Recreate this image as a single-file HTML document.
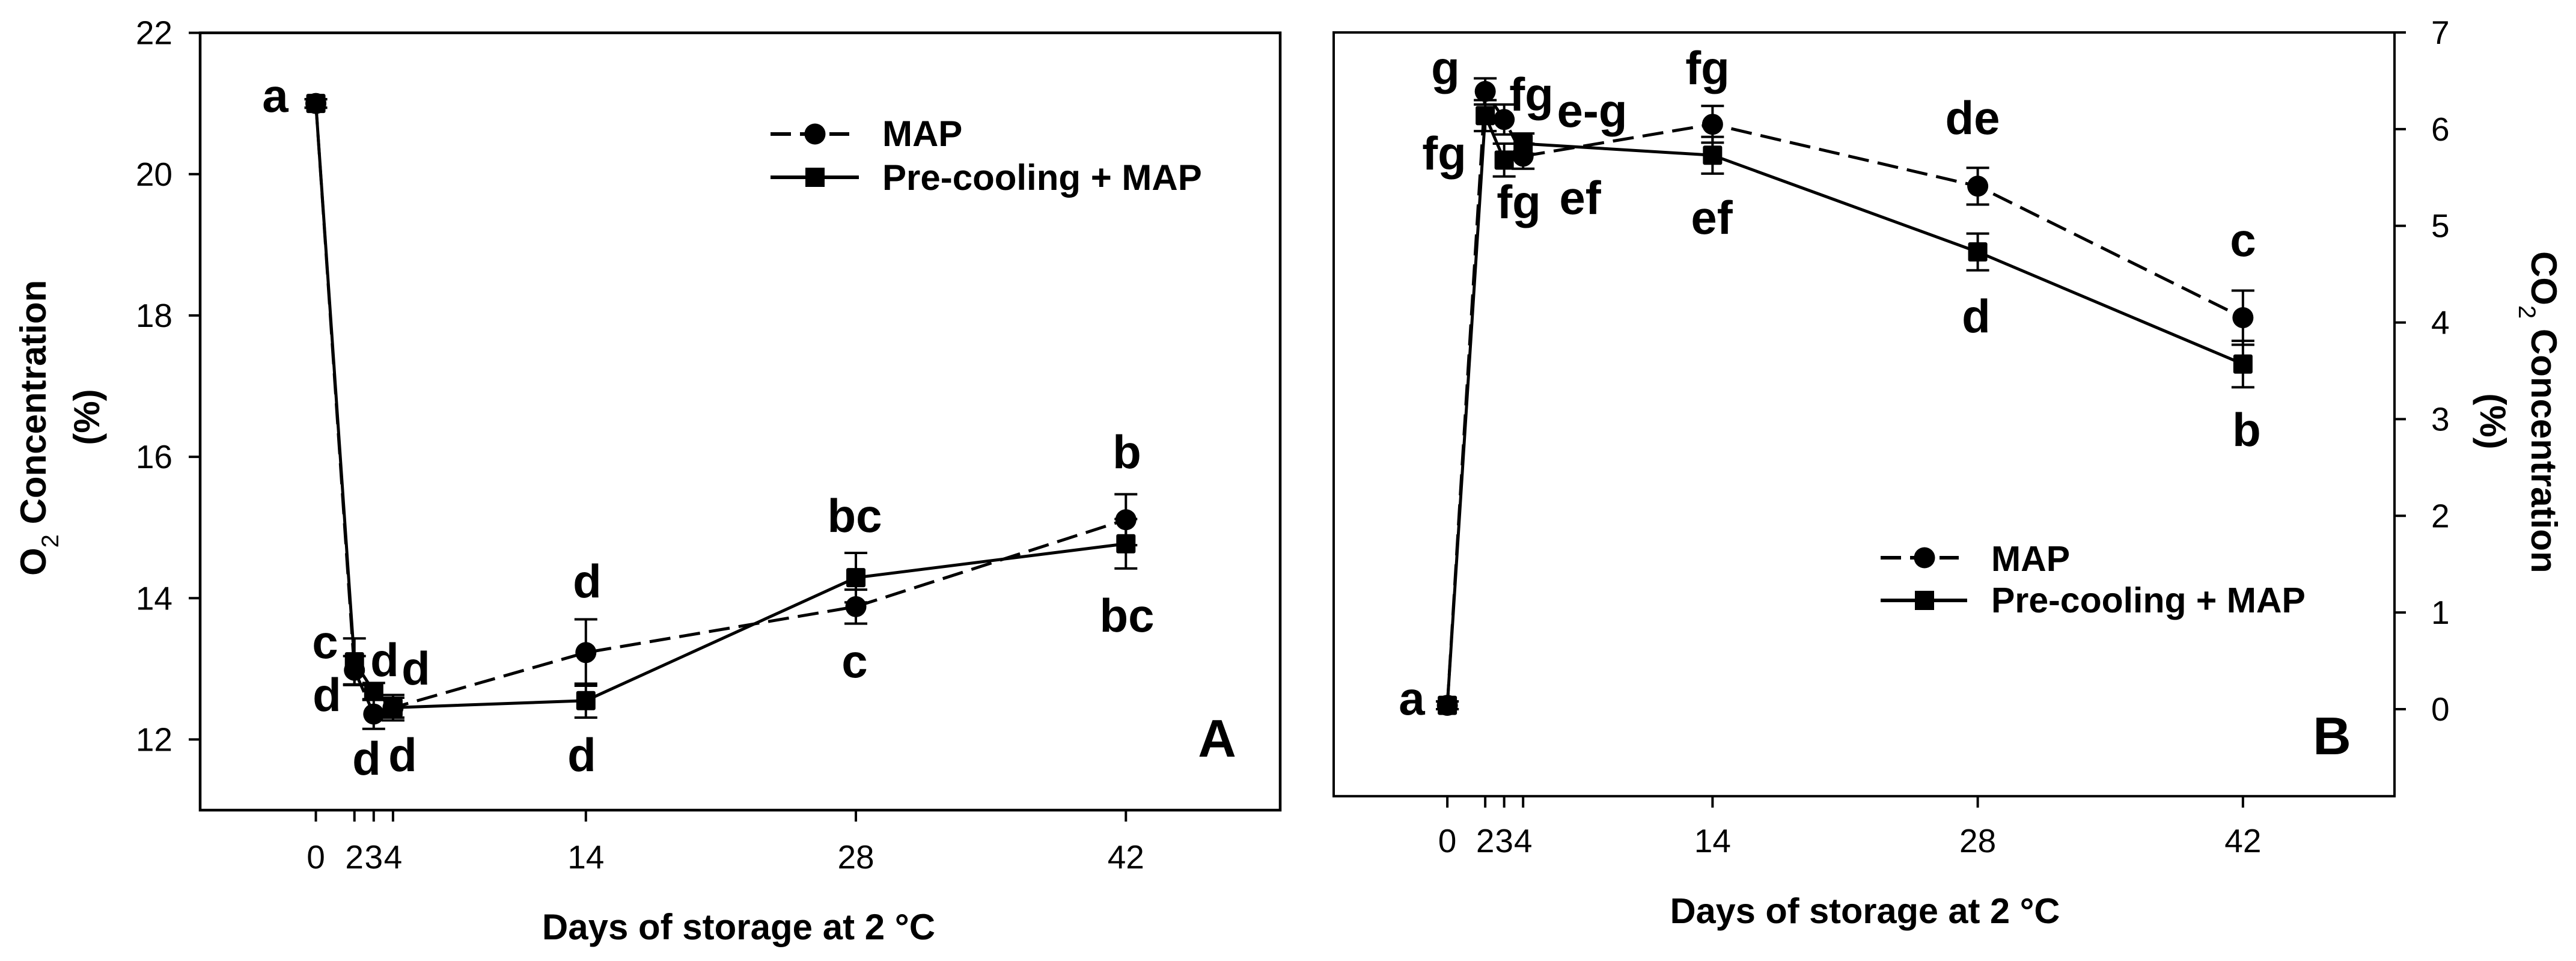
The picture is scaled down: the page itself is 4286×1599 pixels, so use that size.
<!DOCTYPE html>
<html lang="en">
<head>
<meta charset="utf-8">
<title>O2 and CO2 concentration during storage</title>
<style>
html,body{margin:0;padding:0;background:#fff;}
svg{display:block;}
text{font-family:"Liberation Sans",Arial,sans-serif;fill:#000;}
.lt{font-weight:bold;font-size:78px;text-anchor:middle;}
.tl{font-size:55px;}
.ti{font-weight:bold;font-size:60px;}
.sub{font-weight:normal;font-size:40px;}
.lg{font-weight:bold;}
</style>
</head>
<body>
<svg id="chart" xmlns="http://www.w3.org/2000/svg" width="4286" height="1599" viewBox="0 0 4286 1599">
<rect x="0" y="0" width="4286" height="1599" fill="#fff"/>
<g id="panelA"></g>
<g id="panelB"></g>

<text class="ti" transform="translate(76,958) rotate(-90)">O<tspan class="sub" dy="21">2</tspan><tspan dy="-21"> Concentration</tspan></text>
<text class="ti" transform="translate(165,694) rotate(-90)" text-anchor="middle">(%)</text>
<text class="ti" x="1229" y="1563" text-anchor="middle">Days of storage at 2 °C</text>
<text class="ti" x="3103" y="1536" text-anchor="middle" style="font-size:59.5px">Days of storage at 2 °C</text>
<text class="ti" transform="translate(4212,418) rotate(90)">CO<tspan class="sub" dy="21">2</tspan><tspan dy="-21"> Concentration</tspan></text>
<text class="ti" transform="translate(4127,701) rotate(90)" text-anchor="middle">(%)</text>

<g>
<text class="lt" x="458" y="186">a</text>
<text class="lt" x="541" y="1095">c</text>
<text class="lt" x="544" y="1183">d</text>
<text class="lt" x="640" y="1125">d</text>
<text class="lt" x="692" y="1139">d</text>
<text class="lt" x="610" y="1289">d</text>
<text class="lt" x="670" y="1283">d</text>
<text class="lt" x="977" y="994">d</text>
<text class="lt" x="968" y="1283">d</text>
<text class="lt" x="1422" y="885">bc</text>
<text class="lt" x="1422" y="1127">c</text>
<text class="lt" x="1875" y="779">b</text>
<text class="lt" x="1875" y="1051">bc</text>
<text class="lt" x="2025" y="1259" style="font-size:88px">A</text>
</g>
<g>
<text class="lt" x="2349" y="1189">a</text>
<text class="lt" x="2405" y="140">g</text>
<text class="lt" x="2548" y="184">fg</text>
<text class="lt" x="2649" y="211">e-g</text>
<text class="lt" x="2403" y="282">fg</text>
<text class="lt" x="2527" y="363">fg</text>
<text class="lt" x="2629" y="356">ef</text>
<text class="lt" x="2841" y="140">fg</text>
<text class="lt" x="2848" y="389">ef</text>
<text class="lt" x="3282" y="223">de</text>
<text class="lt" x="3288" y="553">d</text>
<text class="lt" x="3732" y="426">c</text>
<text class="lt" x="3738" y="742">b</text>
<text class="lt" x="3880" y="1255" style="font-size:88px">B</text>
</g>

<g>
<line x1="1282" y1="223" x2="1413" y2="223" stroke="#000" stroke-width="6" stroke-dasharray="34 15"/>
<circle cx="1356" cy="223" r="17.5" fill="#000"/>
<text class="lg" x="1468" y="243" style="font-size:60px">MAP</text>
<line x1="1282" y1="295" x2="1429" y2="295" stroke="#000" stroke-width="6"/>
<rect x="1340" y="279" width="32" height="32" fill="#000"/>
<text class="lg" x="1468" y="316" style="font-size:60px">Pre-cooling + MAP</text>
</g>
<g>
<line x1="3129" y1="928" x2="3259" y2="928" stroke="#000" stroke-width="6" stroke-dasharray="34 15"/>
<circle cx="3202" cy="928" r="17.5" fill="#000"/>
<text class="lg" x="3313" y="950" style="font-size:59px">MAP</text>
<line x1="3129" y1="999" x2="3273" y2="999" stroke="#000" stroke-width="6"/>
<rect x="3186" y="983" width="32" height="32" fill="#000"/>
<text class="lg" x="3313" y="1019" style="font-size:59px">Pre-cooling + MAP</text>
</g>
</svg>

<script>
const days = [0, 2, 3, 4, 14, 28, 42];
const xTickLabels = ['0', '2', '3', '4', '14', '28', '42'];
const o2TickValues = [12, 14, 16, 18, 20, 22];
const co2TickValues = [0, 1, 2, 3, 4, 5, 6, 7];

const o2Map = [21.0, 12.98, 12.36, 12.45, 13.23, 13.88, 15.11];
const o2MapErr = [0.06, 0.2, 0.21, 0.14, 0.47, 0.24, 0.36];
const o2Pre = [21.0, 13.1, 12.68, 12.45, 12.55, 14.29, 14.77];
const o2PreErr = [0.06, 0.33, 0.12, 0.18, 0.24, 0.35, 0.35];

const co2Map = [0.04, 6.39, 6.1, 5.72, 6.05, 5.41, 4.05];
const co2MapErr = [0.04, 0.135, 0.155, 0.13, 0.19, 0.19, 0.28];
const co2Pre = [0.04, 6.14, 5.68, 5.85, 5.73, 4.73, 3.57];
const co2PreErr = [0.04, 0.16, 0.17, 0.105, 0.19, 0.19, 0.24];

const NS = 'http://www.w3.org/2000/svg';

function scale(d0, d1, r0, r1) {
  return function (v) { return r0 + (v - d0) * (r1 - r0) / (d1 - d0); };
}
function make(tag, parent, attrs) {
  const node = document.createElementNS(NS, tag);
  for (const k in attrs) node.setAttribute(k, attrs[k]);
  parent.appendChild(node);
  return node;
}
function segment(parent, x1, y1, x2, y2, w) {
  return make('line', parent, { x1: x1, y1: y1, x2: x2, y2: y2, stroke: '#000', 'stroke-width': w });
}

function drawSeries(g, x, y, vals, errs, dashed, isSquare, key) {
  const path = make('polyline', g, {
    points: days.map(function (d, i) { return x(d) + ',' + y(vals[i]); }).join(' '),
    fill: 'none', stroke: '#000', 'stroke-width': 5,
    'stroke-dasharray': dashed ? '35 15' : 'none'
  });
  
  
  days.forEach(function (d, i) {
    const cx = x(d);
    const top = y(vals[i] + errs[i]);
    const bot = y(vals[i] - errs[i]);
    const stem = segment(g, cx, top, cx, bot, 4);
    
    
    const capTop = segment(g, cx - 19, top, cx + 19, top, 4);
    
    
    const capBot = segment(g, cx - 19, bot, cx + 19, bot, 4);
    
    
    let mark;
    if (isSquare) {
      mark = make('rect', g, { x: cx - 16, y: y(vals[i]) - 16, width: 32, height: 32, rx: 3, fill: '#000' });
    } else {
      mark = make('circle', g, { cx: cx, cy: y(vals[i]), r: 17.5, fill: '#000' });
    }
    
    
  });
}

function drawXTicks(g, x, axisY, labelY) {
  days.forEach(function (d, i) {
    const t = segment(g, x(d), axisY, x(d), axisY + 19, 4);
    
    
    const lab = make('text', g, { x: x(d), y: labelY, 'text-anchor': 'middle', 'class': 'tl' });
    lab.textContent = xTickLabels[i];
    
    
  });
}

/* Panel A */
const gA = document.getElementById('panelA');
const xA = scale(-6, 50, 333, 2130);
const yA = scale(22, 11, 54.6, 1348);
const frameA = make('path', gA, {
  d: 'M' + xA(-6) + ' ' + yA(22) + 'H' + xA(50) + 'V' + yA(11) + 'H' + xA(-6) + 'Z',
  fill: 'none', stroke: '#000', 'stroke-width': 4.5
});


o2TickValues.forEach(function (v) {
  const t = segment(gA, xA(-6) - 19, yA(v), xA(-6), yA(v), 4);
  
  
  const lab = make('text', gA, { x: 287, y: yA(v) + 19, 'text-anchor': 'end', 'class': 'tl' });
  lab.textContent = String(v);
  
  
});
drawXTicks(gA, xA, yA(11), 1445);
drawSeries(gA, xA, yA, o2Map, o2MapErr, true, false, 'o2-map');
drawSeries(gA, xA, yA, o2Pre, o2PreErr, false, true, 'o2-precooling');

/* Panel B */
const gB = document.getElementById('panelB');
const xB = scale(-6, 50, 2219, 3984);
const yB = scale(7, 0, 54, 1180);
const frameB = make('path', gB, {
  d: 'M' + xB(-6) + ' ' + yB(7) + 'H' + xB(50) + 'V' + yB(-0.9) + 'H' + xB(-6) + 'Z',
  fill: 'none', stroke: '#000', 'stroke-width': 4
});


co2TickValues.forEach(function (v) {
  const t = segment(gB, xB(50), yB(v), xB(50) + 19, yB(v), 4);
  
  
  const lab = make('text', gB, { x: 4045, y: yB(v) + 19, 'class': 'tl' });
  lab.textContent = String(v);
  
  
});
drawXTicks(gB, xB, yB(-0.9), 1418);
drawSeries(gB, xB, yB, co2Map, co2MapErr, true, false, 'co2-map');
drawSeries(gB, xB, yB, co2Pre, co2PreErr, false, true, 'co2-precooling');
</script>
</body>
</html>
